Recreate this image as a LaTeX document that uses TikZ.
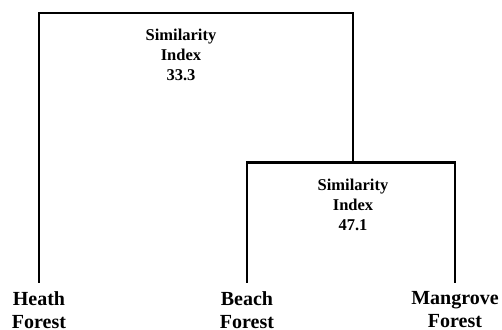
\documentclass[tikz,border=0pt]{standalone}
\usepackage{fontspec}
\setmainfont{Liberation Serif}
\begin{document}
\begin{tikzpicture}[x=1pt,y=-1pt,
  branch/.style={line width=2.4pt,line cap=rect,line join=miter},
  leaf/.style={anchor=north,inner sep=0pt,align=center,font=\fontsize{20}{23}\selectfont\bfseries},
  simlabel/.style={anchor=north,inner sep=0pt,align=center,font=\fontsize{16.5}{20}\selectfont\bfseries}]
\useasboundingbox (0,0) rectangle (502,329);
% leaves
\node[leaf] (heath) at (39,291.5) {Heath\\Forest};
\node[leaf] (beach) at (247,291.5) {Beach\\Forest};
\node[leaf] (mangrove) at (455,291.5) {Mangrove\\Forest};
% junction points
\coordinate (hend) at (39,282);
\coordinate (bend) at (247,282);
\coordinate (mend) at (455,282);
\coordinate (root) at (196,13.3);
\coordinate (inner) at (353,162.3);
% tree
\draw[branch] (hend) |- (root) -| (inner);
\draw[branch] (bend) |- (inner) -| (mend);
% labels
\node[simlabel] (s1) at (181,28.5) {Similarity\\Index\\33.3};
\node[simlabel] (s2) at (353,178.5) {Similarity\\Index\\47.1};
\end{tikzpicture}
\end{document}
